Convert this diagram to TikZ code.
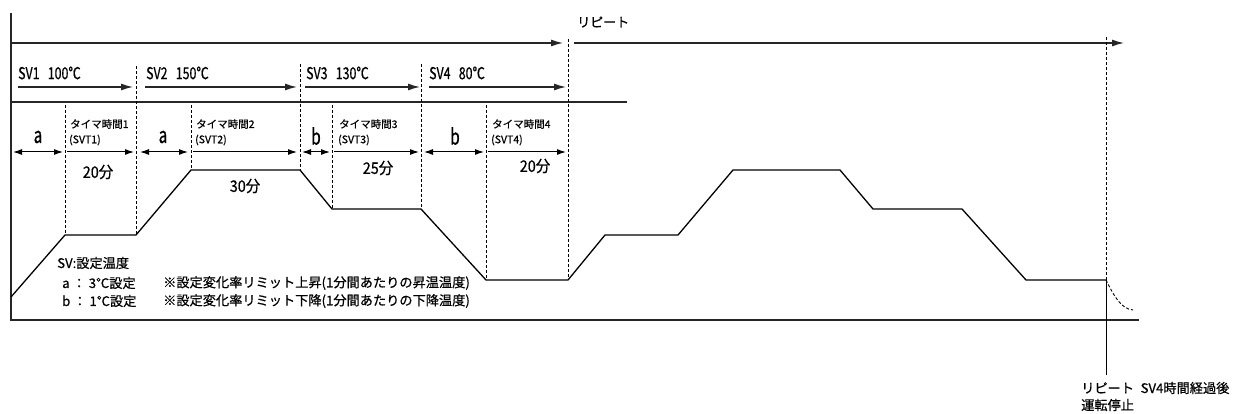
\documentclass[tikz,border=0pt]{standalone}
\usepackage{fontspec}
\setmainfont{Noto Sans CJK JP}[FakeBold=0.6]
\newfontfamily\condA{Noto Sans CJK JP}[FakeStretch=0.75,FakeBold=0.6]
\newfontfamily\condB{Noto Sans CJK JP}[FakeStretch=0.7,FakeBold=0.6]
\newfontfamily\condC{Noto Sans CJK JP}[FakeStretch=0.9,FakeBold=0.6]
\usetikzlibrary{arrows.meta}
\begin{document}
\begin{tikzpicture}[x=1pt,y=-1pt,
  axis/.style={line width=1.3pt, draw=black!85},
  prof/.style={line width=1.3pt, line join=miter},
  dsh/.style={line width=0.9pt, dash pattern=on 3pt off 2pt},
  bigarrow/.style={line width=1.3pt, draw=black!85, -{Latex[length=12pt,width=7pt]}},
  dbl/.style={line width=1pt, {Latex[length=9pt,width=6pt]}-{Latex[length=9pt,width=6pt]}},
  sgl/.style={line width=1pt, -{Latex[length=9pt,width=6pt]}},
  svlabel/.style={anchor=west, inner sep=0pt, font=\condA\fontsize{16.5}{18}\selectfont},
  ablabel/.style={inner sep=0pt, font=\condB\fontsize{22}{24}\selectfont},
  tmlabel/.style={anchor=west, inner sep=0pt, font=\fontsize{10.5}{12}\selectfont},
  minlabel/.style={inner sep=0pt, font=\condC\fontsize{16}{18}\selectfont},
  legend/.style={anchor=west, inner sep=0pt, font=\fontsize{13.2}{15}\selectfont}
]
\useasboundingbox (0,0) rectangle (1241,414);

% axes
\coordinate (O) at (11,13);
\coordinate (B0) at (11,320);
\coordinate (B1) at (1139,320);
\draw[axis] (O) -- (B0) -- (B1);

% repeat line
\coordinate (T0) at (11,43);
\coordinate (T1) at (563,43);
\coordinate (T2) at (574,43);
\coordinate (T3) at (1124,43);
\draw[bigarrow] (T0) -- (T1);
\draw[bigarrow] (T2) -- (T3);
\node[anchor=west, inner sep=0pt, font=\fontsize{13}{15}\selectfont] (rep) at (577,22) {リピート};

% second line
\coordinate (L0) at (11,102);
\coordinate (L1) at (627,102);
\draw[axis] (L0) -- (L1);

% SV arrows
\coordinate (S1a) at (18,87);  \coordinate (S1b) at (133,87);
\coordinate (S2a) at (145,87); \coordinate (S2b) at (297,87);
\coordinate (S3a) at (305,87); \coordinate (S3b) at (420,87);
\coordinate (S4a) at (429,87); \coordinate (S4b) at (566,87);
\draw[bigarrow] (S1a) -- (S1b);
\draw[bigarrow] (S2a) -- (S2b);
\draw[bigarrow] (S3a) -- (S3b);
\draw[bigarrow] (S4a) -- (S4b);
\node[svlabel] (sv1) at (18,73) {SV1\enspace 100℃};
\node[svlabel] (sv2) at (146,73) {SV2\enspace 150℃};
\node[svlabel] (sv3) at (306,73) {SV3\enspace 130℃};
\node[svlabel] (sv4) at (429,73) {SV4\enspace 80℃};

% profile
\coordinate (P0) at (11,297);
\coordinate (P1) at (65,235);
\coordinate (P2) at (136,235);
\coordinate (P3) at (191,170);
\coordinate (P4) at (300,170);
\coordinate (P5) at (332,209);
\coordinate (P6) at (421,209);
\coordinate (P7) at (486,280);
\coordinate (P8) at (568,280);
\coordinate (P9) at (605,235);
\coordinate (P10) at (678,235);
\coordinate (P11) at (733,170);
\coordinate (P12) at (840,170);
\coordinate (P13) at (873,209);
\coordinate (P14) at (962,209);
\coordinate (P15) at (1026,280);
\coordinate (P16) at (1106,280);
\draw[prof] (P0) -- (P1) -- (P2) -- (P3) -- (P4) -- (P5) -- (P6) -- (P7) -- (P8)
  -- (P9) -- (P10) -- (P11) -- (P12) -- (P13) -- (P14) -- (P15) -- (P16);

% dashed verticals
\coordinate (D1) at (136,66);
\coordinate (D2) at (300,64);
\coordinate (D3) at (421,64);
\coordinate (D4) at (568,39);
\coordinate (D5) at (1106,37);
\draw[dsh] (D1) -- (P2);
\draw[dsh] (D2) -- (P4);
\draw[dsh] (D3) -- (P6);
\draw[dsh] (D4) -- (P8);
\draw[dsh] (D5) -- (P16);
\coordinate (E1) at (65,105);
\coordinate (E2) at (191,105);
\coordinate (E3) at (332,105);
\coordinate (E4) at (486,105);
\draw[dsh] (E1) -- (P1);
\draw[dsh] (E2) -- (P3);
\draw[dsh] (E3) -- (P5);
\draw[dsh] (E4) -- (P7);

% a/b and timer arrows
\coordinate (A1a) at (13,152);  \coordinate (A1b) at (63,152);
\coordinate (M1a) at (67,152);  \coordinate (M1b) at (134,152);
\coordinate (A2a) at (140,152); \coordinate (A2b) at (188,152);
\coordinate (M2a) at (193,152); \coordinate (M2b) at (297,152);
\coordinate (A3a) at (302,152); \coordinate (A3b) at (330,152);
\coordinate (M3a) at (334,152); \coordinate (M3b) at (419,152);
\coordinate (A4a) at (424,152); \coordinate (A4b) at (484,152);
\coordinate (M4a) at (488,152); \coordinate (M4b) at (566,152);
\draw[dbl] (A1a) -- (A1b);
\draw[sgl] (M1a) -- (M1b);
\draw[dbl] (A2a) -- (A2b);
\draw[sgl] (M2a) -- (M2b);
\draw[dbl] (A3a) -- (A3b);
\draw[sgl] (M3a) -- (M3b);
\draw[dbl] (A4a) -- (A4b);
\draw[sgl] (M4a) -- (M4b);
\node[ablabel] (la1) at (38,137) {a};
\node[ablabel] (la2) at (163,137) {a};
\node[ablabel] (lb1) at (316,136) {b};
\node[ablabel] (lb2) at (455,136) {b};

\node[tmlabel] (t1) at (70,124) {タイマ時間1};
\node[tmlabel] (t1s) at (69,140) {(SVT1)};
\node[tmlabel] (t2) at (196,124) {タイマ時間2};
\node[tmlabel] (t2s) at (195,140) {(SVT2)};
\node[tmlabel] (t3) at (339,124) {タイマ時間3};
\node[tmlabel] (t3s) at (338,140) {(SVT3)};
\node[tmlabel] (t4) at (492,124) {タイマ時間4};
\node[tmlabel] (t4s) at (491,140) {(SVT4)};

\node[minlabel] (m1) at (98,172) {20分};
\node[minlabel] (m2) at (245,186) {30分};
\node[minlabel] (m3) at (378,168) {25分};
\node[minlabel] (m4) at (535,166) {20分};

% legend
\node[legend] (lg0) at (57,263) {SV:設定温度};
\node[legend] (lg1) at (62,283) {a ： 3℃設定};
\node[legend] (lg2) at (62,301) {b ： 1℃設定};
\node[legend] (lg3) at (163,283) {※設定変化率リミット上昇(1分間あたりの昇温温度)};
\node[legend] (lg4) at (163,301) {※設定変化率リミット下降(1分間あたりの下降温度)};

% stop
\coordinate (Z0) at (1106,375);
\coordinate (Z1) at (1133,310);
\draw[line width=1pt] (P16) -- (Z0);
\draw[dsh] (P16) .. controls (1114,296) and (1121,309) .. (Z1);
\node[legend] (st1) at (1081,388) {リピート\enspace SV4時間経過後};
\node[legend] (st2) at (1081,405) {運転停止};
\end{tikzpicture}
\end{document}
